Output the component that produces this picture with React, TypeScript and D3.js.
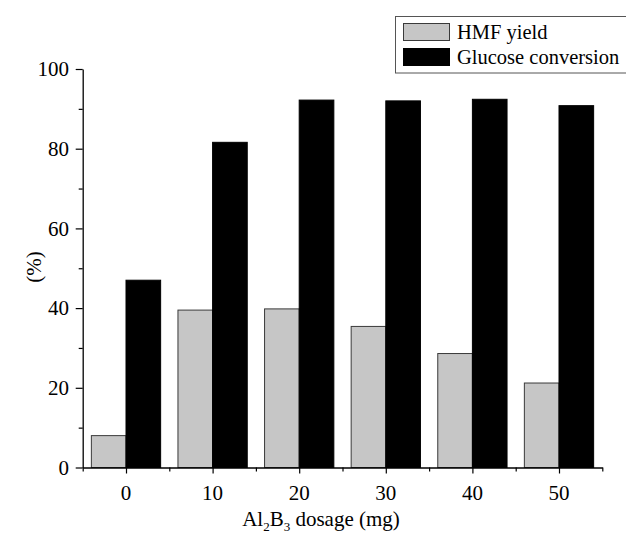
import React, { useRef, useEffect } from "react";
import * as d3 from "d3";

// data
const dosages = [0, 10, 20, 30, 40, 50];
const hmfYield = [8, 39.5, 39.8, 35.4, 28.6, 21.2];
const glucoseConversion = [47, 81.6, 92.2, 92, 92.4, 90.8];
const yTicks = [0, 20, 40, 60, 80, 100];
const legendLabels = ["HMF yield", "Glucose conversion"];

let width = 626;
let height = 547;

let grayFill = "#c6c6c6";
let barStroke = "#3a3a3a";
let font = "Liberation Serif, DejaVu Serif, serif";

export default function App() {
  const svgRef = useRef<SVGSVGElement>(null);

  useEffect(() => {
    const svg = d3.select(svgRef.current);
    svg.selectAll("*").remove();

    const x = d3.scaleLinear().domain([-5, 55]).range([82.7, 602.3]);
    const y = d3.scaleLinear().domain([0, 100]).range([467.5, 69]);
    const half = 4; // bar width in data units
    const bw = x(half) - x(0);

    svg.append("rect").attr("width", width).attr("height", height).attr("fill", "#fff");

    // gray bars (HMF yield)
    svg.append("g")
      .selectAll("rect")
      .data(dosages)
      .join("rect")
      .attr("x", (d) => x(d - half))
      .attr("y", (d, i) => y(hmfYield[i]))
      .attr("width", bw)
      .attr("height", (d, i) => y(0) - y(hmfYield[i]))
      .attr("fill", grayFill)
      .attr("stroke", barStroke)
      .attr("stroke-width", 1);

    // black bars (glucose conversion)
    svg.append("g")
      .selectAll("rect")
      .data(dosages)
      .join("rect")
      .attr("x", (d) => x(d))
      .attr("y", (d, i) => y(glucoseConversion[i]))
      .attr("width", bw)
      .attr("height", (d, i) => y(0) - y(glucoseConversion[i]))
      .attr("fill", "#000")
      .attr("stroke", "#000")
      .attr("stroke-width", 1);

    // y axis
    const yAxis = svg.append("g").attr("transform", `translate(${x(-5)},0)`);
    yAxis.call(
      d3.axisLeft(y).tickValues(d3.range(0, 101, 10)).tickSize(0).tickFormat(() => "") as any
    );
    yAxis.select(".domain").attr("stroke", "#000").attr("stroke-width", 1.3);
    yAxis.selectAll(".tick line")
      .attr("x2", (d: any) => (d % 20 === 0 ? -7 : -4))
      .attr("stroke", "#000")
      .attr("stroke-width", 1.2);
    svg.append("g")
      .selectAll("text")
      .data(yTicks)
      .join("text")
      .attr("x", 69)
      .attr("y", (d) => y(d))
      .attr("dy", "0.35em")
      .attr("text-anchor", "end")
      .attr("font-size", 21)
      .text((d) => d);

    // x axis
    const xAxis = svg.append("g").attr("transform", `translate(0,${y(0)})`);
    xAxis.call(
      d3.axisBottom(x).tickValues(d3.range(-5, 56, 5)).tickSize(0).tickFormat(() => "") as any
    );
    xAxis.select(".domain").attr("stroke", "#000").attr("stroke-width", 1.3);
    xAxis.selectAll(".tick line")
      .attr("y2", (d: any) => (d % 10 === 0 ? 6 : 4))
      .attr("stroke", "#000")
      .attr("stroke-width", 1.2);
    svg.append("g")
      .selectAll("text")
      .data(dosages)
      .join("text")
      .attr("x", (d) => x(d))
      .attr("y", 500)
      .attr("text-anchor", "middle")
      .attr("font-size", 21)
      .text((d) => d);

    // axis titles
    const xt = svg.append("text")
      .attr("x", 321)
      .attr("y", 526)
      .attr("text-anchor", "middle")
      .attr("font-size", 21);
    xt.append("tspan").text("Al");
    xt.append("tspan").attr("dy", 5).attr("font-size", 13).text("2");
    xt.append("tspan").attr("dy", -5).text("B");
    xt.append("tspan").attr("dy", 5).attr("font-size", 13).text("3");
    xt.append("tspan").attr("dy", -5).text(" dosage (mg)");

    svg.append("text")
      .attr("transform", `translate(41,267) rotate(-90)`)
      .attr("text-anchor", "middle")
      .attr("font-size", 21)
      .text("(%)");

    // legend
    const legend = svg.append("g");
    legend.append("rect")
      .attr("x", 395.5).attr("y", 16.5)
      .attr("width", 240).attr("height", 56.5)
      .attr("fill", "#fff").attr("stroke", "#555").attr("stroke-width", 1);
    const swatch = [
      { fill: grayFill, stroke: barStroke },
      { fill: "#000", stroke: "#000" },
    ];
    legendLabels.forEach((label, i) => {
      legend.append("rect")
        .attr("x", 403.5).attr("y", 23.5 + i * 25)
        .attr("width", 46).attr("height", 17)
        .attr("fill", swatch[i].fill).attr("stroke", swatch[i].stroke);
      legend.append("text")
        .attr("x", 457).attr("y", 39 + i * 25)
        .attr("font-size", 20.5)
        .text(label);
    });
  }, []);

  return (
    <svg
      ref={svgRef}
      width={width}
      height={height}
      fontFamily={font}
      style={{ position: "absolute", left: 0, top: 0, fontFamily: font }}
    />
  );
}
